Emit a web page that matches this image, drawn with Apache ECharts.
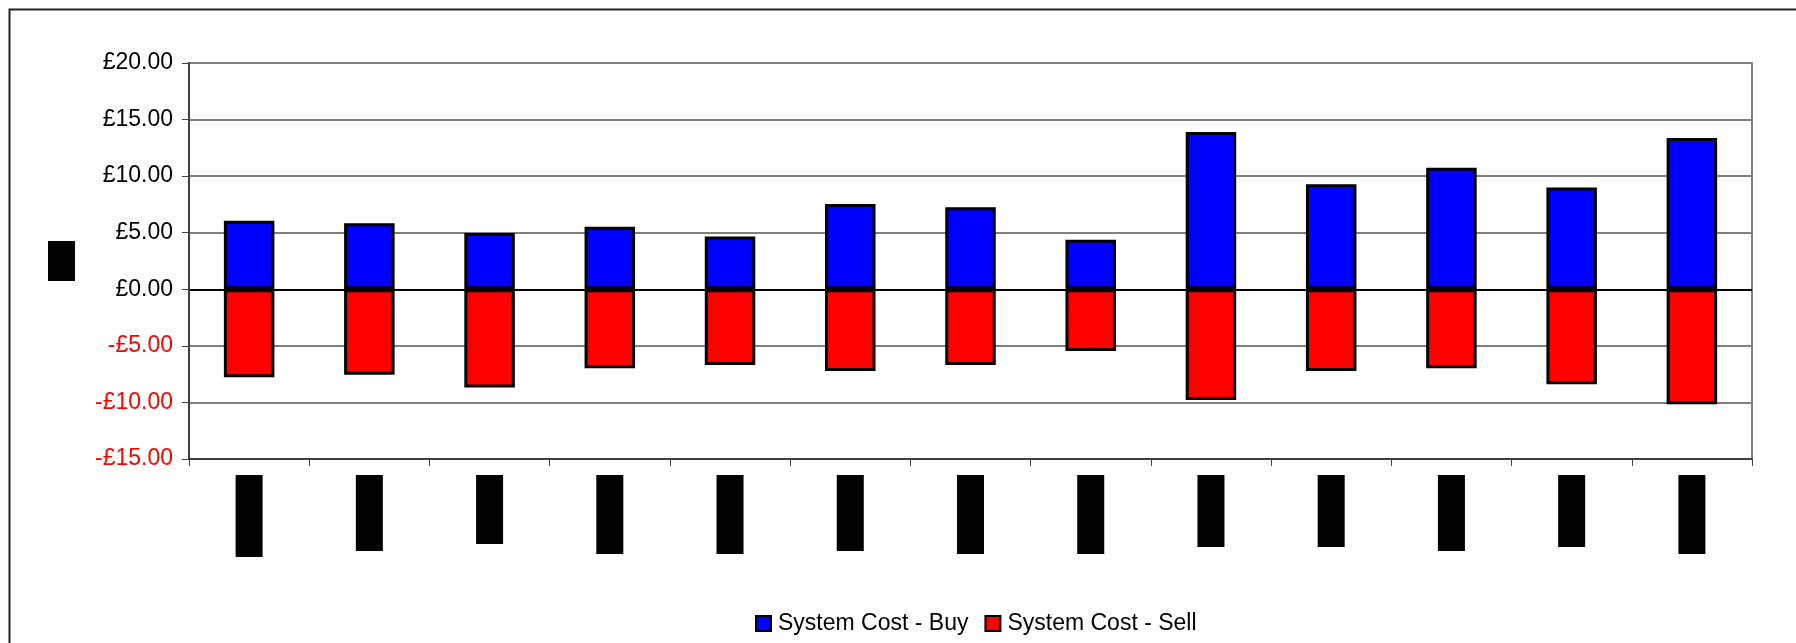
<!DOCTYPE html>
<html>
<head>
<meta charset="utf-8">
<script src="https://cdn.jsdelivr.net/npm/echarts@6/dist/echarts.min.js"></script>
<style>
html,body{margin:0;padding:0;background:#fff;}
#chart{width:1796px;height:643px;}
</style>
</head>
<body>
<div id="chart"></div>
<script>
// Data (category labels are redacted in the reference)
const categories = ['1','2','3','4','5','6','7','8','9','10','11','12','13'];
const buyValues  = [6.06, 5.83, 4.98, 5.53, 4.66, 7.54, 7.24, 4.37, 13.90, 9.28, 10.75, 8.99, 13.38];
const sellValues = [-7.78, -7.56, -8.69, -6.99, -6.69, -7.22, -6.69, -5.46, -9.79, -7.22, -6.99, -8.40, -10.16];
const seriesNames = ['System Cost - Buy', 'System Cost - Sell'];
const yTicks = { min: -15, max: 20, interval: 5 };
const yAxisName = '£';

// style: length of each redaction box over the rotated category labels
const redactLen = [82, 76, 69, 79, 79, 76, 79, 79, 72, 72, 76, 72, 79];

const FONT = "'Liberation Sans', Arial, sans-serif";
const chart = echarts.init(document.getElementById('chart'), null, {renderer: 'canvas'});

const option = {
  animation: false,
  backgroundColor: '#fff',
  textStyle: { fontFamily: FONT },
  graphic: [{
    type: 'rect', left: 7, top: 7, z: -10,
    shape: { width: 1900, height: 800 },
    style: { fill: 'none', stroke: '#222', lineWidth: 2 }
  }],
  grid: {
    left: 189, right: 44, top: 63, bottom: 184,
    show: true, borderColor: '#808080', borderWidth: 2, backgroundColor: 'transparent'
  },
  legend: {
    data: seriesNames,
    left: 750, top: 607,
    itemWidth: 15, itemHeight: 15, itemGap: 16,
    textStyle: { fontFamily: FONT, fontSize: 23, color: '#000', padding: [0,0,0,2] },
    icon: 'rect'
  },
  xAxis: {
    type: 'category',
    data: categories,
    axisLine: { show: true, onZero: false, lineStyle: { color: '#404040', width: 2 } },
    axisTick: { show: true, alignWithLabel: false, length: 7, lineStyle: { color: '#404040', width: 1 } },
    axisLabel: {
      interval: 0, rotate: 90, margin: 16,
      formatter: function (v, i) { return '{r' + i + '|' + v + '}'; },
      rich: (function () {
        const r = {};
        redactLen.forEach(function (w, i) {
          r['r' + i] = { width: w, height: 27, lineHeight: 27, backgroundColor: '#000', color: '#000', fontSize: 14 };
        });
        return r;
      })()
    },
    splitLine: { show: false }
  },
  yAxis: {
    type: 'value',
    min: yTicks.min, max: yTicks.max, interval: yTicks.interval,
    name: '{b|' + yAxisName + '}',
    nameLocation: 'middle', nameGap: 114, nameRotate: 90,
    nameTextStyle: {
      rich: { b: { width: 40, height: 27, lineHeight: 27, backgroundColor: '#000', color: '#000', fontSize: 14, align: 'center' } }
    },
    axisLine: { show: true, lineStyle: { color: '#404040', width: 2 } },
    axisTick: { show: true, length: 7, lineStyle: { color: '#404040', width: 1 } },
    axisLabel: {
      margin: 16, fontSize: 23, fontFamily: FONT,
      color: function (v) { return parseFloat(v) < 0 ? '#ff0000' : '#000000'; },
      formatter: function (v) { return (v < 0 ? '-£' : '£') + Math.abs(v).toFixed(2); }
    },
    splitLine: {
      show: true,
      lineStyle: { color: ['#808080','#808080','#808080','#000000','#808080','#808080','#808080','#808080'], width: 2 }
    }
  },
  series: [
    {
      name: seriesNames[0], type: 'bar', stack: 'cost', data: buyValues,
      barWidth: '42%',
      itemStyle: { color: '#0000ff', borderColor: '#000', borderWidth: 3 }
    },
    {
      name: seriesNames[1], type: 'bar', stack: 'cost', data: sellValues,
      barWidth: '42%',
      itemStyle: { color: '#ff0000', borderColor: '#000', borderWidth: 3 }
    }
  ]
};
chart.setOption(option);
</script>
</body>
</html>
